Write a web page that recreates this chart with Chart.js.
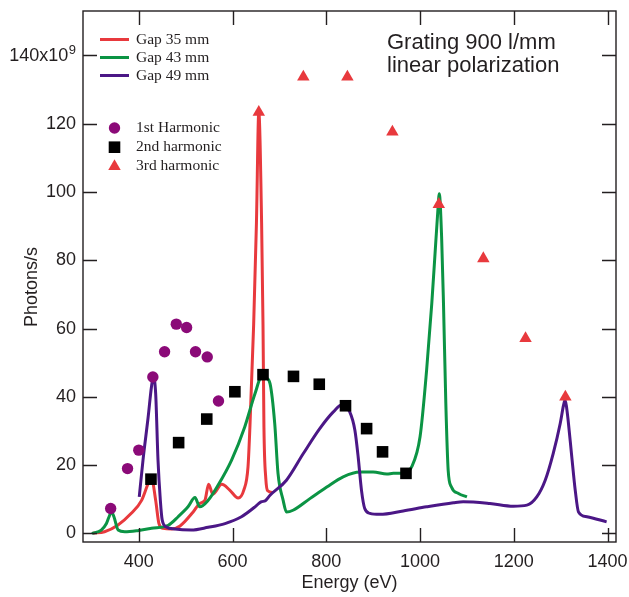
<!DOCTYPE html>
<html>
<head>
<meta charset="utf-8">
<script src="https://cdn.jsdelivr.net/npm/chart.js@4.4.1/dist/chart.umd.min.js"></script>
<style>
  html, body { margin: 0; padding: 0; background: #fff; }
  #wrap { width: 629px; height: 597px; }
</style>
</head>
<body>
<div id="wrap"><canvas id="fluxChart" width="629" height="597"></canvas></div>
<script>
// undulator flux curves, [energy eV, photons/s in 1e9]
const gap35 = [
  [302, 0.1], [327, 0.5], [355, 2.4], [384, 5.9], [406, 9.7], [420, 14.6], [427, 16.3],
  [436, 9.7], [443, 2.9], [452, 1.5], [470, 1.3], [488, 2.2], [516, 6.3], [530, 8.8],
  [541, 9.7], [549, 14.4], [558, 11.5], [577, 14.4], [594, 12.7], [612, 10.4], [624, 12.7],
  [633, 19.5], [637, 31], [645, 61], [651, 91], [656, 123.5], [662, 91], [665, 61],
  [667, 31], [671, 16], [675, 12.5], [686, 12]
];
const gap43 = [
  [300, 0], [320, 1.0], [331, 2.9], [338, 5.4], [342, 6.3], [347, 4.9], [356, 1.0],
  [370, 0.5], [400, 0.9], [427, 1.5], [463, 2.4], [484, 4.9], [505, 7.8], [520, 10.5],
  [530, 7.8], [548, 9.7], [569, 14.1], [598, 21.5], [626, 31.2], [648, 41], [662, 45.8],
  [672, 45.5], [680, 43.9], [690, 32.2], [697, 17.6], [708, 9.7], [715, 6.3], [729, 6.8],
  [765, 10.2], [801, 13.6], [836, 16.6], [872, 18.0], [900, 18.0], [929, 17.4], [943, 17.6],
  [964, 17.6], [982, 19.5], [1000, 28.3], [1014, 47.8], [1025, 67.3], [1032, 82],
  [1038, 94.6], [1041, 99.5], [1046, 86.8], [1050, 67.3], [1055, 38], [1060, 18.5],
  [1067, 13.6], [1082, 11.7], [1100, 10.7]
];
const gap49 = [
  [401, 10.7], [409, 21.5], [420, 34.1], [427, 42.9], [431, 45.8], [436, 41], [441, 21.5],
  [446, 9.7], [450, 3.9], [459, 1.9], [477, 1.3], [512, 1.0], [548, 1.8], [584, 2.9],
  [619, 4.9], [648, 7.8], [658, 9.0], [662, 9.3], [670, 9.6], [680, 11.2], [715, 15.6],
  [751, 23.4], [786, 30.7], [815, 35.6], [833, 37.6], [850, 35.6], [861, 30.2], [868, 22.4],
  [875, 12.7], [882, 7.3], [893, 5.9], [914, 5.6], [964, 6.6], [1014, 7.8], [1071, 9.0],
  [1092, 9.3], [1149, 8.8], [1199, 8.0], [1228, 8.3], [1249, 10.7], [1267, 15.6],
  [1284, 23.4], [1299, 32.2], [1306, 37.5], [1309, 39], [1312, 37.5], [1316, 33],
  [1323, 23.4], [1331, 12.7], [1338, 6.3], [1356, 4.9], [1398, 3.4]
];

// peak flux of each harmonic
const harmonic1 = [
  [340, 7.3], [376, 19.0], [400, 24.4], [430, 45.8], [455, 53.2], [480, 61.3],
  [502, 60.3], [521, 53.2], [546, 51.7], [570, 38.8]
];
const harmonic2 = [
  [426, 15.9], [485, 26.6], [545, 33.5], [605, 41.5], [665, 46.5], [730, 46.0],
  [785, 43.7], [841, 37.4], [886, 30.7], [920, 23.9], [970, 17.6]
];
const harmonic3 = [
  [656, 123.4], [751, 133.7], [845, 133.7], [941, 117.6], [1040, 96.4],
  [1135, 80.5], [1225, 57.1], [1310, 40.0]
];

const lineLabels = ["Gap 35 mm", "Gap 43 mm", "Gap 49 mm"];
const markerLabels = ["1st Harmonic", "2nd harmonic", "3rd harmonic"];
const xTicks = [400, 600, 800, 1000, 1200, 1400];
const yTicks = [0, 20, 40, 60, 80, 100, 120, 140];
const noteLines = ["Grating 900 l/mm", "linear polarization"];

const RED = "#e8393d";
const GREEN = "#0b9444";
const PURPLE = "#4b1786";
const PLUM = "#8b0a78";
const INK = "#231f20";
const SANS = "'Liberation Sans', Arial, sans-serif";

const toXY = (arr) => arr.map(([x, y]) => ({ x, y }));

function curve(label, data, color) {
  return {
    label,
    data: toXY(data),
    showLine: true,
    borderColor: color,
    borderWidth: 3,
    pointRadius: 0,
    cubicInterpolationMode: "monotone",
    fill: false,
    order: 1,
  };
}

function markers(label, data, color, style, radius) {
  return {
    label,
    data: toXY(data),
    showLine: false,
    pointStyle: style,
    pointRadius: radius,
    pointBackgroundColor: color,
    pointBorderWidth: 0,
    borderColor: color,
    order: 0,
  };
}

function drawMarker(ctx, style, x, y, color) {
  ctx.fillStyle = color;
  ctx.beginPath();
  if (style === "circle") {
    ctx.arc(x, y, 5.7, 0, Math.PI * 2);
  } else if (style === "rect") {
    ctx.rect(x - 5.8, y - 5.8, 11.6, 11.6);
  } else {
    const r = 7.2;
    ctx.moveTo(x, y - r);
    ctx.lineTo(x + r * Math.sin(2 * Math.PI / 3), y + r / 2);
    ctx.lineTo(x - r * Math.sin(2 * Math.PI / 3), y + r / 2);
    ctx.closePath();
  }
  ctx.fill();
}

// frame, inward ticks, legends and the note
const decorations = {
  id: "decorations",
  afterDraw(chart) {
    const { ctx, chartArea: a, scales } = chart;
    const tl = 14;
    ctx.save();
    ctx.strokeStyle = INK;
    ctx.lineWidth = 1.4;
    ctx.strokeRect(a.left, a.top, a.right - a.left, a.bottom - a.top);
    ctx.beginPath();
    xTicks.forEach((v) => {
      const px = Math.round(scales.x.getPixelForValue(v)) + 0.5;
      ctx.moveTo(px, a.bottom); ctx.lineTo(px, a.bottom - tl);
      ctx.moveTo(px, a.top); ctx.lineTo(px, a.top + tl);
    });
    yTicks.forEach((v) => {
      const py = Math.round(scales.y.getPixelForValue(v)) + 0.5;
      ctx.moveTo(a.left, py); ctx.lineTo(a.left + tl, py);
      ctx.moveTo(a.right, py); ctx.lineTo(a.right - tl, py);
    });
    ctx.stroke();

    // top y label with exponent
    ctx.fillStyle = INK;
    const yTop = scales.y.getPixelForValue(140);
    ctx.font = "13px " + SANS;
    ctx.textAlign = "right";
    ctx.textBaseline = "middle";
    ctx.fillText("9", 76, yTop - 5);
    const expW = ctx.measureText("9").width;
    ctx.font = "18px " + SANS;
    ctx.fillText("140x10", 76 - expW - 0.5, yTop + 1);

    // vertical axis title
    ctx.save();
    ctx.translate(32, 287);
    ctx.rotate(-Math.PI / 2);
    ctx.textAlign = "center";
    ctx.textBaseline = "middle";
    ctx.fillText("Photons/s", 0, 0);
    ctx.restore();

    // legends
    ctx.font = "15.5px 'Liberation Serif', 'Times New Roman', serif";
    ctx.textAlign = "left";
    ctx.textBaseline = "middle";
    [RED, GREEN, PURPLE].forEach((c, i) => {
      const y = 39.5 + i * 18;
      ctx.strokeStyle = c;
      ctx.lineWidth = 3;
      ctx.beginPath();
      ctx.moveTo(100, y); ctx.lineTo(129, y);
      ctx.stroke();
      ctx.fillStyle = INK;
      ctx.fillText(lineLabels[i], 136, y);
    });
    [["circle", PLUM], ["rect", "#000"], ["triangle", RED]].forEach(([s, c], i) => {
      const y = 128 + i * 19.2;
      drawMarker(ctx, s, 114.5, y, c);
      ctx.fillStyle = INK;
      ctx.fillText(markerLabels[i], 136, y);
    });

    // note
    ctx.font = "22px " + SANS;
    ctx.textBaseline = "alphabetic";
    ctx.fillStyle = INK;
    ctx.fillText(noteLines[0], 387, 48.5);
    ctx.fillText(noteLines[1], 387, 72);
    ctx.restore();
  },
};

new Chart(document.getElementById("fluxChart"), {
  type: "scatter",
  data: {
    datasets: [
      markers(markerLabels[0], harmonic1, PLUM, "circle", 5.7),
      markers(markerLabels[1], harmonic2, "#000", "rect", 8.2),
      markers(markerLabels[2], harmonic3, RED, "triangle", 7.2),
      curve(lineLabels[2], gap49, PURPLE),
      curve(lineLabels[1], gap43, GREEN),
      curve(lineLabels[0], gap35, RED),
    ],
  },
  options: {
    responsive: false,
    animation: false,
    devicePixelRatio: 1,
    layout: { padding: { left: 0, top: 11, right: 13, bottom: 0 } },
    plugins: {
      legend: { display: false },
      tooltip: { enabled: false },
    },
    scales: {
      x: {
        type: "linear",
        min: 281,
        max: 1418,
        afterFit: (s) => { s.height = 55; s.paddingLeft = 0; s.paddingRight = 0; },
        grid: { display: false, drawTicks: false },
        border: { display: false },
        ticks: {
          includeBounds: false,
          stepSize: 200,
          padding: 9,
          color: INK,
          font: { family: SANS, size: 18 },
          maxRotation: 0,
          callback: (v) => String(v),
        },
        title: {
          display: true,
          text: "Energy (eV)",
          color: INK,
          font: { family: SANS, size: 18 },
          padding: { top: 0, bottom: 3 },
        },
      },
      y: {
        type: "linear",
        min: -2.5,
        max: 153,
        afterFit: (s) => { s.width = 83; s.paddingTop = 0; s.paddingBottom = 0; },
        grid: { display: false, drawTicks: false },
        border: { display: false },
        ticks: {
          includeBounds: false,
          stepSize: 20,
          padding: 7,
          color: INK,
          font: { family: SANS, size: 18 },
          callback: (v) => (v === 140 ? "" : String(v)),
        },
      },
    },
  },
  plugins: [decorations],
});
</script>
</body>
</html>
